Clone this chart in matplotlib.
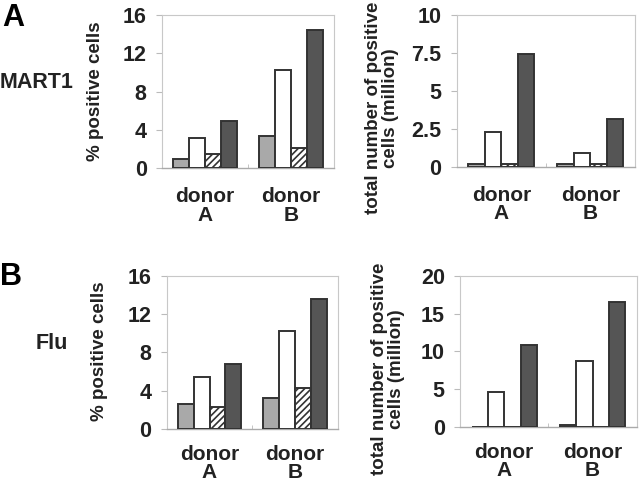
import matplotlib
matplotlib.use("Agg")
import matplotlib.pyplot as plt
import numpy as np

plt.rcParams['font.family'] = ['Liberation Sans', 'DejaVu Sans']
plt.rcParams['font.weight'] = 'bold'
plt.rcParams['hatch.linewidth'] = 1.2

groups = ["donor\nA", "donor\nB"]
mart1_pct = {
    "gray": [0.9, 3.3],
    "white": [3.1, 10.25],
    "hatch": [1.43, 2.06],
    "dark": [4.95, 14.45],
}
mart1_total = {
    "gray": [0.15, 0.15],
    "white": [2.27, 0.92],
    "hatch": [0.15, 0.15],
    "dark": [7.45, 3.14],
}
flu_pct = {
    "gray": [2.64, 3.3],
    "white": [5.45, 10.27],
    "hatch": [2.29, 4.27],
    "dark": [6.8, 13.6],
}
flu_total = {
    "gray": [0.05, 0.35],
    "white": [4.7, 8.8],
    "hatch": [0.05, 0.05],
    "dark": [10.86, 16.57],
}

styles = {
    "gray": dict(color="#a9a9a9", hatch=None),
    "white": dict(color="white", hatch=None),
    "hatch": dict(color="white", hatch="/////"),
    "dark": dict(color="#555555", hatch=None),
}
order = ["gray", "white", "hatch", "dark"]
TXT = "#222222"

fig = plt.figure(figsize=(6.4, 4.87), dpi=100)

def panel(rect, data, ymax, yticks, yticklabels, xpad):
    ax = fig.add_axes(rect)
    x = np.arange(len(groups))
    w = 0.185
    for i, k in enumerate(order):
        st = styles[k]
        ax.bar(x + (i - 1.5) * w, data[k], width=w, color=st["color"],
               edgecolor="#333333", linewidth=1.4, hatch=st["hatch"], zorder=3)
    ax.set_xlim(-0.5, 1.5)
    ax.set_ylim(0, ymax)
    ax.set_yticks(yticks)
    ax.set_yticklabels(yticklabels, fontsize=15.5, fontweight='bold', color=TXT)
    ax.set_xticks(x)
    ax.set_xticklabels(groups, fontsize=15, fontweight='bold', color=TXT,
                       linespacing=0.95)
    ax.set_xticks([-0.5, 0.5, 1.5], minor=True)
    ax.tick_params(axis='x', which='major', length=0, pad=xpad)
    ax.tick_params(axis='x', which='minor', length=3, direction='in', color="#bbbbbb")
    ax.tick_params(axis='y', length=4, direction='out', color="#bbbbbb", pad=7)
    for s in ["top", "right", "left"]:
        ax.spines[s].set_color("#c8c8c8")
        ax.spines[s].set_linewidth(0.8)
    ax.spines["bottom"].set_color("#aaaaaa")
    ax.spines["bottom"].set_linewidth(1.0)
    return ax

ax1 = panel([0.2531, 0.655, 0.2688, 0.3142], mart1_pct, 16, [0, 4, 8, 12, 16],
            ["0", "4", "8", "12", "16"], 14)
ax2 = panel([0.7136, 0.6577, 0.2786, 0.3115], mart1_total, 10, [0, 2.5, 5, 7.5, 10],
            ["0", "2.5", "5", "7.5", "10"], 14)
ax3 = panel([0.2605, 0.1185, 0.2676, 0.3154], flu_pct, 16, [0, 4, 8, 12, 16],
            ["0", "4", "8", "12", "16"], 11)
ax4 = panel([0.7188, 0.1226, 0.2760, 0.3113], flu_total, 20, [0, 5, 10, 15, 20],
            ["0", "5", "10", "15", "20"], 11)

lab_pct = "% positive cells"
lab_tot = "total number of positive\ncells (million)"
fig.text(0.150, 0.812, lab_pct, rotation=90, fontsize=13.5, fontweight='bold',
         color=TXT, ha='center', va='center')
fig.text(0.156, 0.279, lab_pct, rotation=90, fontsize=13.5, fontweight='bold',
         color=TXT, ha='center', va='center')
fig.text(0.597, 0.778, lab_tot, rotation=90, fontsize=13.5, fontweight='bold',
         color=TXT, ha='center', va='center', multialignment='center', linespacing=1.0)
fig.text(0.606, 0.2423, lab_tot, rotation=90, fontsize=13.5, fontweight='bold',
         color=TXT, ha='center', va='center', multialignment='center', linespacing=1.0)

fig.text(0.003, 0.993, "A", fontsize=22, fontweight='bold', va='top', ha='left')
fig.text(0.0, 0.8296, "MART1", fontsize=15.5, fontweight='bold', va='center', ha='left', color=TXT)
fig.text(0.0, 0.463, "B", fontsize=22, fontweight='bold', va='top', ha='left')
fig.text(0.056, 0.2947, "Flu", fontsize=15.5, fontweight='bold', va='center', ha='left', color=TXT)

fig.savefig("out.png", dpi=100)
